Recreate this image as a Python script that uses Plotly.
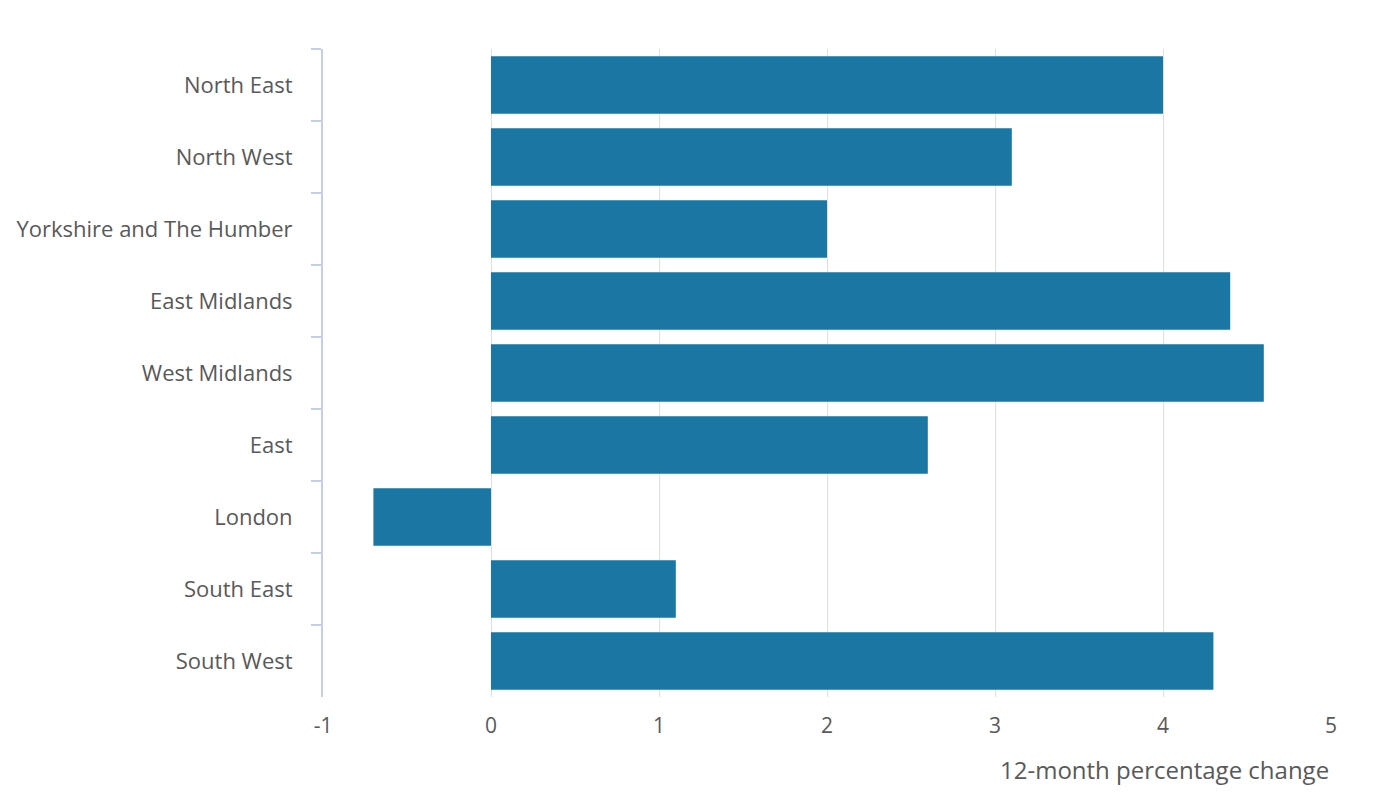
import plotly.graph_objects as go

regions = ["North East", "North West", "Yorkshire and The Humber", "East Midlands",
           "West Midlands", "East", "London", "South East", "South West"]
values = [4.0, 3.1, 2.0, 4.4, 4.6, 2.6, -0.7, 1.1, 4.3]
x_ticks = [-1, 0, 1, 2, 3, 4, 5]
x_title = "12-month percentage change"

font_family = "Open Sans, sans-serif"
text_color = "#595959"

fig = go.Figure(go.Bar(
    x=values, y=regions, orientation="h",
    marker=dict(color="#1a77a4", line=dict(width=0)),
    hoverinfo="x+y",
))

fig.update_layout(
    width=1392, height=808,
    margin=dict(l=315, r=69, t=41, b=119),
    paper_bgcolor="white", plot_bgcolor="white",
    bargap=0.2,
    showlegend=False,
    font=dict(family=font_family, color=text_color, size=22),
    annotations=[dict(
        text=x_title, xref="paper", yref="paper", x=1, y=0,
        xanchor="right", yanchor="top", yshift=-54, showarrow=False,
        font=dict(family=font_family, color=text_color, size=24),
    )],
)

fig.update_xaxes(
    range=[-1, 5], tickvals=x_ticks, ticktext=[str(t) for t in x_ticks],
    showgrid=True, gridcolor="#dedede", gridwidth=1,
    zeroline=True, zerolinecolor="#dedede", zerolinewidth=1,
    showline=False, ticks="", ticklabelstandoff=14, automargin=False,
    tickfont=dict(size=21, color=text_color),
)
fig.update_yaxes(
    autorange="reversed", categoryorder="array", categoryarray=regions,
    showline=True, linecolor="#c5cfe8", linewidth=2,
    ticks="outside", tickson="boundaries", ticklen=10, tickcolor="#c5cfe8", tickwidth=2,
    showgrid=False, ticklabelstandoff=24, automargin=False,
    tickfont=dict(size=22, color=text_color),
)

fig.write_html("out.html")
